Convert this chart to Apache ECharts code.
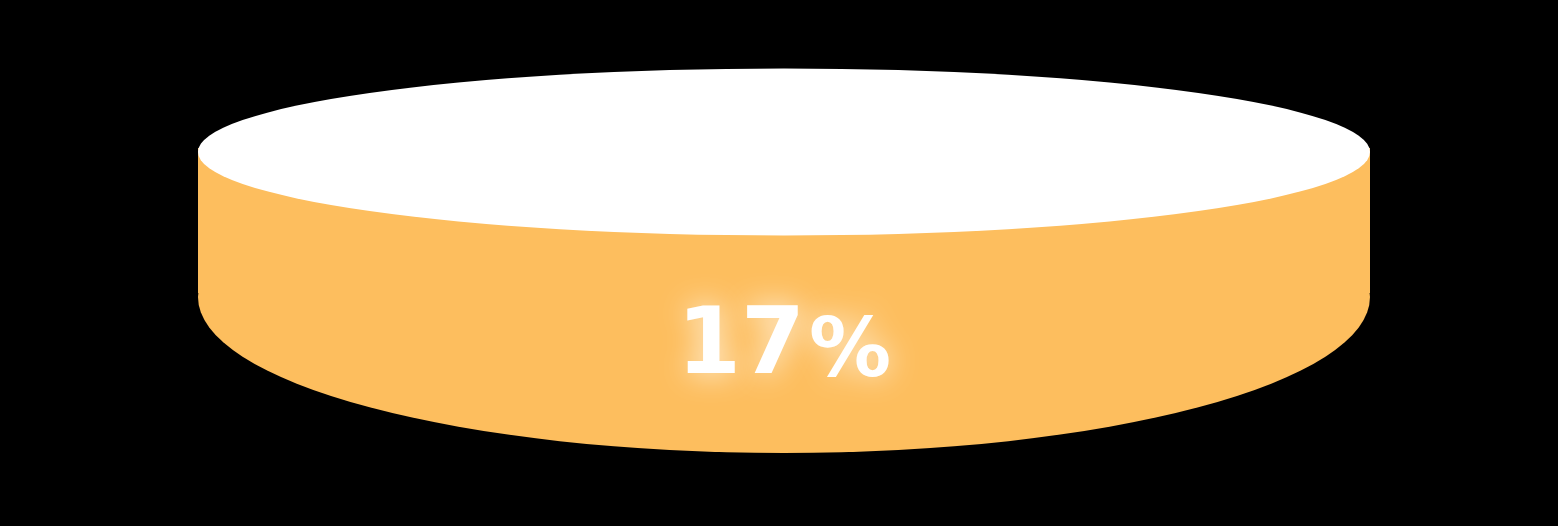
<!DOCTYPE html>
<html>
<head>
<meta charset="utf-8">
<script src="https://cdn.jsdelivr.net/npm/echarts@6/dist/echarts.min.js"></script>
<style>
  html, body { margin: 0; padding: 0; background: #000; }
  #chart { width: 1558px; height: 526px; }
</style>
</head>
<body>
<div id="chart"></div>
<script>
  const categories = ['占比'];
  const percentValues = [17];

  const orange = '#fdbe5e';
  const cylWidth = 1172;

  const chart = echarts.init(document.getElementById('chart'), null, { renderer: 'canvas' });

  chart.setOption({
    backgroundColor: '#000',
    animation: false,
    grid: { left: 198, right: 188, top: 152, bottom: 229 },
    xAxis: { type: 'category', data: categories, show: false },
    yAxis: { type: 'value', min: 0, max: 'dataMax', show: false },
    series: [
      {
        // bottom cap
        type: 'pictorialBar',
        symbol: 'circle',
        symbolSize: [cylWidth, 312],
        symbolPosition: 'start',
        symbolOffset: [0, '50%'],
        barWidth: cylWidth,
        itemStyle: { color: orange },
        data: percentValues,
        z: 1
      },
      {
        // body
        type: 'pictorialBar',
        symbol: 'rect',
        symbolSize: [cylWidth, '100%'],
        symbolOffset: [0, -4],
        barWidth: cylWidth,
        itemStyle: { color: orange },
        label: {
          show: true,
          position: 'inside',
          offset: [0, 127],
          formatter: (p) => '{a|' + p.value + '}{b|%}',
          rich: {
            a: {
              fontFamily: 'DejaVu Sans',
              fontWeight: 'bold',
              fontSize: 92,
              color: '#fff',
              padding: [0, 4, 0, 0],
              textShadowColor: 'rgba(255,255,255,0.85)',
              textShadowBlur: 30
            },
            b: {
              fontFamily: 'DejaVu Sans',
              fontWeight: 'bold',
              fontSize: 82,
              color: '#fff',
              verticalAlign: 'bottom',
              textShadowColor: 'rgba(255,255,255,0.85)',
              textShadowBlur: 30
            }
          }
        },
        data: percentValues,
        z: 2
      },
      {
        // top cap
        type: 'pictorialBar',
        symbol: 'circle',
        symbolSize: [cylWidth, 167],
        symbolPosition: 'end',
        symbolOffset: [0, '-50%'],
        barWidth: cylWidth,
        itemStyle: { color: '#fff' },
        data: percentValues,
        z: 3
      }
    ]
  });
</script>
</body>
</html>
